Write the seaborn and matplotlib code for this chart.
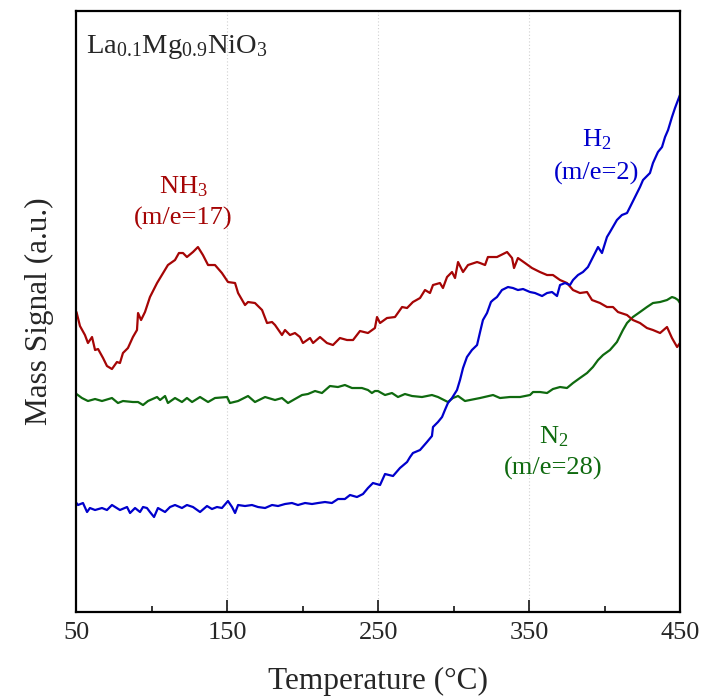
import numpy as np
import pandas as pd
import matplotlib
matplotlib.use("Agg")
import matplotlib.pyplot as plt
import seaborn as sns
from matplotlib.ticker import MultipleLocator

# ---------------- data ----------------
nh3_temp = [50, 52.3, 55.6, 57.6, 60.3, 62.3, 64.3, 67.6, 70.2, 73.5, 76.8, 78.8, 80.8, 84.1, 87.4,
            90.1, 90.8, 92.8, 95.4, 98.7, 103.4, 107.4, 110.6, 115.3, 117.9, 120.6, 123.2, 127.2,
            130.5, 133.8, 137.2, 141.8, 146.4, 150.4, 155.1, 157.1, 161.7, 163.7, 168.3, 173.0,
            176.3, 179.6, 181.6, 186.2, 188.2, 191.5, 194.8, 198.1, 200.1, 204.8, 206.8, 211.4,
            216.0, 220.0, 224.6, 229.3, 233.3, 237.9, 243.2, 247.8, 249.2, 251.2, 255.8, 261.1,
            265.8, 269.1, 273.0, 277.7, 281.0, 284.3, 286.3, 290.9, 292.9, 295.6, 298.9, 300.9,
            302.9, 306.2, 309.5, 315.5, 317.5, 320.8, 322.7, 328.7, 335.4, 338.7, 340.0, 342.6,
            347.3, 351.9, 357.2, 361.9, 365.8, 370.5, 375.1, 379.1, 383.7, 388.4, 391.7, 397.0,
            401.6, 405.6, 408.9, 414.9, 418.8, 423.5, 428.1, 432.1, 436.8, 441.4, 444.7, 448.1, 450]
nh3_signal = [300, 286, 277, 269, 275, 262, 263, 254, 246, 243, 250, 249, 259, 264, 275,
              282, 299, 292, 300, 315, 329, 339, 347, 352, 359, 359, 355, 360,
              365, 357, 347, 347, 339, 330, 329, 319, 307, 310, 309, 302,
              289, 290, 287, 277, 282, 277, 279, 275, 269, 274, 269, 275,
              269, 267, 274, 272, 272, 281, 279, 284, 295, 289, 294, 295,
              305, 304, 310, 314, 322, 319, 327, 329, 324, 335, 340, 334,
              350, 340, 347, 350, 349, 347, 355, 355, 360, 354, 344, 354,
              349, 344, 340, 337, 337, 332, 329, 322, 319, 320, 312, 309,
              305, 305, 300, 297, 292, 289, 284, 282, 279, 285, 274, 265, 269]

h2_temp = [50, 51.0, 54.3, 57.0, 58.9, 62.3, 66.9, 70.2, 73.5, 78.8, 83.5, 85.5, 88.8, 92.1,
           94.1, 96.7, 98.7, 101.4, 104.0, 108.7, 112.0, 115.3, 119.9, 123.2, 127.2, 131.9,
           136.5, 139.8, 143.1, 146.4, 150.4, 153.1, 155.1, 157.1, 161.7, 166.3, 170.3, 175.0,
           179.6, 183.6, 188.2, 192.8, 196.8, 201.5, 206.1, 210.1, 214.7, 219.3, 223.3, 227.9,
           231.3, 235.9, 239.9, 243.2, 246.5, 251.2, 254.5, 259.8, 264.4, 269.1, 271.1, 273.0,
           277.7, 282.3, 285.6, 286.3, 289.6, 292.3, 294.2, 296.2, 298.9, 302.2, 304.2, 306.2,
           308.8, 312.1, 315.5, 317.5, 319.4, 322.1, 324.7, 326.1, 328.7, 332.0, 336.0, 339.3,
           342.6, 346.0, 350.6, 353.9, 358.6, 361.9, 365.2, 368.5, 370.5, 373.8, 377.1, 379.1,
           382.4, 385.7, 389.0, 393.7, 395.7, 398.3, 401.6, 403.6, 408.2, 411.5, 414.9, 416.9,
           420.2, 423.5, 425.5, 430.1, 432.1, 435.4, 438.1, 440.1, 442.1, 444.7, 446.7, 448.7, 450]
h2_signal = [109, 107, 109, 100, 104, 102, 104, 102, 107, 102, 105, 99, 104, 100,
             105, 104, 100, 95, 104, 100, 105, 107, 104, 107, 105, 100,
             106, 103, 105, 104, 111, 105, 99, 107, 106, 107, 105, 104,
             107, 106, 108, 109, 107, 109, 108, 109, 110, 109, 113, 113,
             117, 115, 118, 124, 129, 127, 138, 136, 144, 150, 155, 159,
             162, 170, 176, 185, 190, 195, 202, 209, 214, 222, 232, 244,
             255, 262, 267, 280, 292, 299, 310, 312, 315, 322, 325, 324,
             322, 323, 320, 319, 316, 319, 320, 316, 327, 329, 327, 332,
             337, 340, 345, 359, 365, 359, 375, 380, 392, 397, 399, 405,
             415, 425, 432, 439, 449, 460, 465, 475, 482, 495, 504, 512, 517]

n2_temp = [50, 53.6, 57.6, 62.3, 66.9, 73.5, 77.5, 80.8, 87.4, 90.8, 94.1, 97.4, 103.4, 105.4,
           108.7, 110.6, 115.3, 119.9, 123.2, 126.6, 131.9, 137.2, 141.8, 149.8, 151.7, 157.1,
           163.7, 168.3, 175.0, 181.6, 186.2, 190.2, 194.8, 199.5, 203.4, 208.1, 212.7, 218.0,
           223.3, 227.9, 232.6, 239.2, 243.2, 245.8, 247.8, 249.8, 254.5, 259.1, 263.1, 267.7,
           272.4, 279.0, 285.6, 289.6, 296.2, 299.5, 302.9, 307.5, 310.8, 317.5, 326.1, 330.7,
           337.3, 344.0, 350.6, 352.6, 357.2, 361.9, 365.8, 370.5, 375.1, 379.1, 383.7, 388.4,
           392.3, 395.7, 399.0, 403.6, 408.2, 412.2, 414.9, 418.8, 423.5, 428.1, 432.1, 436.8,
           441.4, 444.7, 446.7, 448.7, 450]
n2_signal = [218, 214, 211, 213, 211, 214, 209, 211, 210, 210, 207, 211, 215, 212,
             216, 209, 214, 210, 214, 210, 215, 210, 214, 215, 209, 211,
             216, 210, 215, 212, 214, 209, 213, 217, 218, 221, 219, 226,
             225, 227, 224, 224, 222, 219, 221, 221, 217, 219, 215, 218,
             216, 215, 217, 215, 210, 214, 216, 211, 212, 214, 217, 214,
             215, 215, 217, 220, 220, 219, 223, 225, 224, 229, 234, 239,
             245, 252, 257, 262, 270, 282, 289, 295, 300, 305, 309, 310,
             312, 315, 314, 312, 309]

x_ticks = [50, 150, 250, 350, 450]
x_tick_labels = ["50", "150", "250", "350", "450"]

# ---------------- style ----------------
sns.set_style("ticks")
plt.rcParams["font.family"] = ["Liberation Serif", "DejaVu Serif"]
plt.rcParams["mathtext.fontset"] = "custom"
plt.rcParams["mathtext.rm"] = "Liberation Serif"
plt.rcParams["mathtext.it"] = "Liberation Serif:italic"
plt.rcParams["mathtext.default"] = "rm"

RED = "#A50505"
BLUE = "#0000CC"
GREEN = "#0F6A0F"

fig = plt.figure(figsize=(7.05, 6.98), dpi=100)
ax = fig.add_axes([0.1085, 0.1232, 0.8560, 0.8610])

df_nh3 = pd.DataFrame({"T": nh3_temp, "S": nh3_signal})
df_h2 = pd.DataFrame({"T": h2_temp, "S": h2_signal})
df_n2 = pd.DataFrame({"T": n2_temp, "S": n2_signal})

for t in [150, 250, 350]:
    ax.axvline(t, color="#d0d0d0", lw=0.8, ls=(0, (1, 2)), zorder=0)

sns.lineplot(data=df_n2, x="T", y="S", ax=ax, color=GREEN, lw=1.6, sort=False)
sns.lineplot(data=df_nh3, x="T", y="S", ax=ax, color=RED, lw=1.6, sort=False)
sns.lineplot(data=df_h2, x="T", y="S", ax=ax, color=BLUE, lw=1.6, sort=False)

ax.set_xlim(50, 450)
ax.set_ylim(0, 601)
ax.set_xticks(x_ticks)
ax.set_xticklabels(x_tick_labels)
ax.xaxis.set_minor_locator(MultipleLocator(50))
ax.set_yticks([])
ax.tick_params(axis="x", which="major", direction="in", length=8.5, width=1.3,
               labelsize=19, pad=7)
ax.tick_params(axis="x", which="minor", direction="in", length=4.5, width=1.3)
for sp in ax.spines.values():
    sp.set_linewidth(1.6)
    sp.set_color("black")

ax.set_xlabel("Temperature (°C)", fontsize=22.5, labelpad=17)
ax.set_ylabel("Mass Signal (a.u.)", fontsize=22.5, labelpad=16)

ax.text(56.3, 565, r"La$_{0.1}$Mg$_{0.9}$NiO$_3$", fontsize=20.5, ha="left", va="center")
ax.text(120.6, 425, r"NH$_3$", fontsize=19, color=RED, ha="center", va="center")
ax.text(120.6, 394, "(m/e=17)", fontsize=19, color=RED, ha="center", va="center")
ax.text(395, 472, r"H$_2$", fontsize=19, color=BLUE, ha="center", va="center")
ax.text(395, 439, "(m/e=2)", fontsize=19, color=BLUE, ha="center", va="center")
ax.text(366, 175, r"N$_2$", fontsize=19, color=GREEN, ha="center", va="center")
ax.text(366, 144, "(m/e=28)", fontsize=19, color=GREEN, ha="center", va="center")

fig.savefig("out.png", dpi=100)
